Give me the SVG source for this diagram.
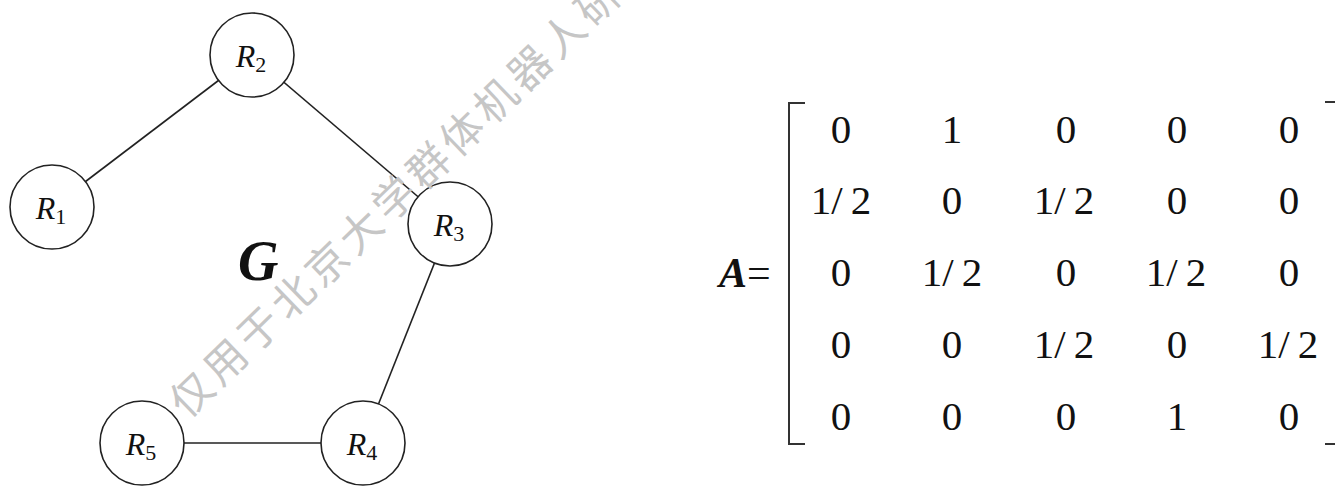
<svg xmlns="http://www.w3.org/2000/svg" width="1335" height="486" viewBox="0 0 1335 486">
<style>
.node circle{fill:#fff;stroke:#222;stroke-width:1.6}
.lbl{font-size:32px;fill:#111;text-anchor:middle}
.lbl .r{font-style:italic}
.lbl .s{font-size:22px}
.edge{stroke:#222;stroke-width:1.6}
.m{font-size:41px;fill:#111;text-anchor:middle}
.t{fill:#111}
.br{fill:none;stroke:#333;stroke-width:2}
.wm{font-family:'Noto Sans CJK SC',sans-serif;font-size:42px;fill:#c6c6c6;letter-spacing:5px}
</style>
<rect width="1335" height="486" fill="#fff"/>
<g id="connectors">
<line class="edge" x1="52" y1="207" x2="252" y2="55"/>
<line class="edge" x1="252" y1="55" x2="450" y2="224"/>
<line class="edge" x1="450" y1="224" x2="363" y2="443"/>
<line class="edge" x1="142" y1="443" x2="363" y2="443"/>
</g>
<g font-family="Liberation Serif, Times New Roman, Times, Nimbus Roman, FreeSerif, Noto Serif, DejaVu Serif, Tinos, serif">
<g id="R1" class="node"><circle cx="52" cy="207" r="42"/><text class="lbl" x="51" y="219"><tspan class="r">R</tspan><tspan class="s" dy="5">1</tspan></text></g>
<g id="R2" class="node"><circle cx="252" cy="55" r="42"/><text class="lbl" x="251" y="67"><tspan class="r">R</tspan><tspan class="s" dy="5">2</tspan></text></g>
<g id="R3" class="node"><circle cx="450" cy="224" r="42"/><text class="lbl" x="449" y="236"><tspan class="r">R</tspan><tspan class="s" dy="5">3</tspan></text></g>
<g id="R4" class="node"><circle cx="363" cy="443" r="42"/><text class="lbl" x="362" y="455"><tspan class="r">R</tspan><tspan class="s" dy="5">4</tspan></text></g>
<g id="R5" class="node"><circle cx="142" cy="443" r="42"/><text class="lbl" x="141" y="455"><tspan class="r">R</tspan><tspan class="s" dy="5">5</tspan></text></g>
<text class="t" x="238" y="280" font-size="56" font-weight="bold" font-style="italic">G</text>
<g id="matrix">
<text class="t" x="719" y="287" font-size="42"><tspan font-weight="bold" font-style="italic">A</tspan>=</text>
<path class="br" d="M805,103 H789 V444 H805"/>
<path class="br" d="M1325,102 H1336 V444 H1325"/>
<g class="m">
<text x="841" y="143">0</text><text x="952" y="143">1</text><text x="1066" y="143">0</text><text x="1177" y="143">0</text><text x="1289" y="143">0</text>
<text x="841" y="214">1/<tspan dx="8">2</tspan></text><text x="952" y="214">0</text><text x="1064" y="214">1/<tspan dx="8">2</tspan></text><text x="1177" y="214">0</text><text x="1289" y="214">0</text>
<text x="841" y="286">0</text><text x="952" y="286">1/<tspan dx="8">2</tspan></text><text x="1066" y="286">0</text><text x="1176" y="286">1/<tspan dx="8">2</tspan></text><text x="1289" y="286">0</text>
<text x="841" y="358">0</text><text x="952" y="358">0</text><text x="1064" y="358">1/<tspan dx="8">2</tspan></text><text x="1177" y="358">0</text><text x="1288" y="358">1/<tspan dx="8">2</tspan></text>
<text x="841" y="430">0</text><text x="952" y="430">0</text><text x="1066" y="430">0</text><text x="1177" y="430">1</text><text x="1289" y="430">0</text>
</g>
</g>
</g>
<text class="wm" x="187" y="420" transform="rotate(-44 187 420)">仅用于北京大学群体机器人研</text>
</svg>
